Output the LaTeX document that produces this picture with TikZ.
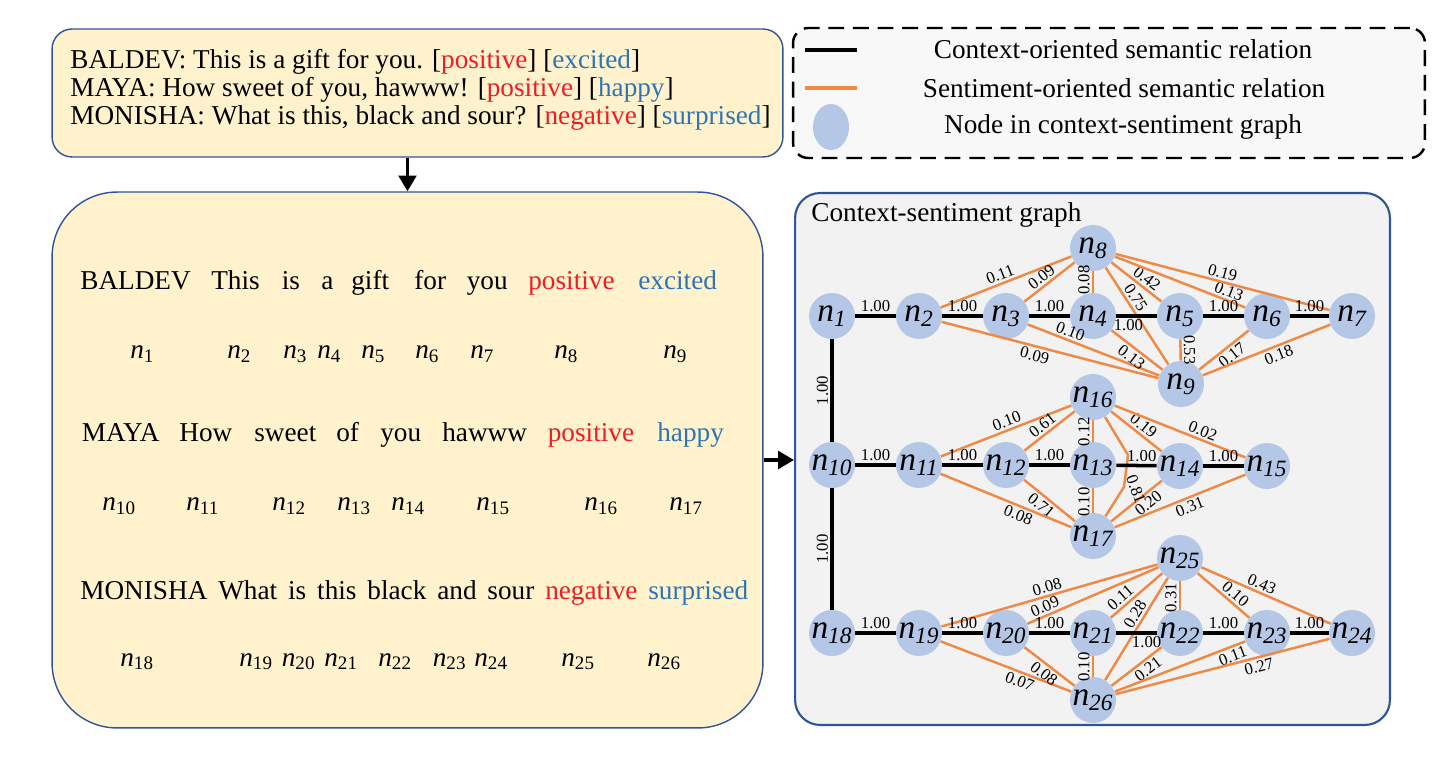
\documentclass[tikz,border=0pt]{standalone}
\usepackage{fontspec}
\setmainfont{Liberation Serif}
\usetikzlibrary{arrows.meta,positioning,shapes.geometric}

\definecolor{boxyellow}{HTML}{FFF2CC}
\definecolor{boxblue}{HTML}{2F5597}
\definecolor{graphgrey}{HTML}{F2F2F2}
\definecolor{legendgrey}{HTML}{F8F8F8}
\definecolor{nodeblue}{HTML}{B4C7E7}
\definecolor{sntorange}{HTML}{EE8A45}
\definecolor{posred}{HTML}{EE1C25}
\definecolor{emoblue}{HTML}{2E75B6}

\begin{document}
\begin{tikzpicture}[x=0.02cm, y=-0.02cm,
    box/.style={draw=boxblue, fill=boxyellow, line width=0.8pt},
    gnode/.style={circle, fill=nodeblue, minimum size=0.92cm, inner sep=0pt, font=\fontsize{19}{19}\selectfont},
    ctx/.style={draw=black, line width=2pt},
    snt/.style={draw=sntorange, line width=1.4pt},
    elab/.style={font=\fontsize{9.5}{10}\selectfont, inner sep=1.2pt},
    word/.style={anchor=base west, inner sep=0pt, font=\fontsize{15.5}{18}\selectfont},
    legtext/.style={inner sep=0pt, font=\fontsize{15.5}{18}\selectfont},
    bigarrow/.style={-{Triangle[length=9pt,width=10pt]}, line width=2pt}]

\useasboundingbox (0,0) rectangle (1443,759);

\node[box, rounded corners=0.4cm, minimum width=14.62cm, minimum height=2.56cm] (dlg) at (417.5,93) {};
\node[anchor=west, align=left, inner sep=0pt, font=\fontsize{15.5}{15.9}\selectfont] (dlgtxt) at (70,90)
    {BALDEV: This is a gift for you. [\textcolor{posred}{positive}] [\textcolor{emoblue}{excited}]\\
     MAYA: How sweet of you, hawww! [\textcolor{posred}{positive}] [\textcolor{emoblue}{happy}]\\
     MONISHA: What is this, black and sour? [\textcolor{posred}{negative}] [\textcolor{emoblue}{surprised}]};

\node[draw, line width=1.4pt, dash pattern=on 9pt off 5pt, fill=legendgrey, rounded corners=0.3cm,
    minimum width=12.64cm, minimum height=2.6cm] (legend) at (1109,93) {};
\draw[ctx, line width=2.6pt] (805,50) -- (857,50);
\draw[snt, line width=2.6pt] (805,88) -- (857,88);
\node[ellipse, fill=nodeblue, minimum width=0.72cm, minimum height=0.92cm, inner sep=0pt] (lgnode) at (831,127) {};
\node[legtext] (lg1) at (1123,49) {Context-oriented semantic relation};
\node[legtext] (lg2) at (1124,88) {Sentiment-oriented semantic relation};
\node[legtext] (lg3) at (1123,127) {Node in context-sentiment graph};

\node[box, rounded corners=1.3cm, minimum width=14.22cm, minimum height=10.72cm] (tokens) at (407.5,460) {};

\foreach \x/\w [count=\i] in {80/BALDEV, 211/This, 281.5/is, 321/a, 351/gift, 414/for, 466.5/you,
    528/{\textcolor{posred}{positive}}, 638/{\textcolor{emoblue}{excited}}}
  \node[word] (wa\i) at (\x,290) {\w};
\foreach \x [count=\i] in {130,227,283,317,361,415,470,554,663}
  \node[word] (ta\i) at (\x,359) {\textit{n}\textsubscript{\i}};

\foreach \x/\w [count=\i] in {81.5/MAYA, 179/How, 254/sweet, 336/of, 380/you, 442/hawww,
    547.5/{\textcolor{posred}{positive}}, 657/{\textcolor{emoblue}{happy}}}
  \node[word] (wb\i) at (\x,442) {\w};
\foreach \x [count=\i from 10] in {102,186,272,337,391,476,584,669}
  \node[word] (tb\i) at (\x,511) {\textit{n}\textsubscript{\i}};

\node[word] (wc) at (80,600) {\makebox[13.36cm][s]{MONISHA What is this black and sour \textcolor{posred}{negative} \textcolor{emoblue}{surprised}}};
\foreach \x [count=\i from 18] in {120,239,281.5,324,378,432.5,474,561,647}
  \node[word] (tc\i) at (\x,666) {\textit{n}\textsubscript{\i}};

\node[draw=boxblue, line width=1.2pt, fill=graphgrey, rounded corners=0.5cm,
    minimum width=11.9cm, minimum height=10.64cm] (graph) at (1092.5,459) {};
\node[word] (gtitle) at (811,222) {Context-sentiment graph};

\draw[bigarrow] (dlg.south -| tokens.north) -- (tokens.north);
\draw[bigarrow] (tokens.east) -- (tokens.east -| graph.west);

\foreach \i/\x/\y in {1/832/316, 2/919/316, 3/1006/316, 4/1093/316, 5/1180/316, 6/1267/316, 7/1352/316,
    8/1093/248, 9/1181/384,
    10/832/465, 11/919/465, 12/1006/465, 13/1093/465, 14/1180/466, 15/1267/466, 16/1093/397, 17/1093/536,
    18/832/633, 19/919/633, 20/1006/633, 21/1093/633, 22/1180/633, 23/1267/633, 24/1352/633,
    25/1180/558, 26/1093/700}
  \node[gnode] (n\i) at (\x,\y) {\textit{n\textsubscript{\i}}};

\foreach \a/\b/\w/\p in {8/2/0.11/0.52, 8/3/0.09/0.55, 4/8/0.08/0.59, 8/5/0.42/0.60, 8/9/0.75/0.36,
    8/6/0.13/0.85, 8/7/0.19/0.49, 3/9/0.10/0.30, 9/5/0.53/0.5,
    16/11/0.10/0.47, 16/12/0.61/0.53, 13/16/0.12/0.47, 16/14/0.19/0.53, 16/15/0.02/0.65, 17/13/0.10/0.44,
    25/19/0.08/0.50, 25/20/0.09/0.84, 25/21/0.11/0.70, 25/26/0.28/0.40, 22/25/0.31/0.42,
    25/23/0.10/0.62, 25/24/0.43/0.44, 26/21/0.10/0.47}
  \draw[snt] (n\a) -- node[elab, sloped, above, pos=\p] {\w} (n\b);
\foreach \a/\b/\w/\p in {2/9/0.09/0.44, 4/9/0.13/0.50, 9/6/0.17/0.55, 9/7/0.18/0.57,
    12/17/0.71/0.45, 11/17/0.08/0.62, 17/14/0.20/0.62, 17/15/0.31/0.55,
    19/26/0.07/0.63, 20/26/0.08/0.50, 26/22/0.21/0.62, 26/23/0.11/0.88, 26/24/0.27/0.66}
  \draw[snt] (n\a) -- node[elab, sloped, below, pos=\p] {\w} (n\b);
\draw[snt] (n16) -- (1128,455) -- node[elab, xshift=2pt, yshift=-3pt, rotate=-70, above, pos=1] {0.81} (1124,487) -- (n17);

\foreach \a/\b in {1/2, 2/3, 3/4, 5/6, 6/7, 10/11, 11/12, 12/13, 14/15, 18/19, 19/20, 20/21, 22/23, 23/24}
  \draw[ctx] (n\a) -- node[elab, above] {1.00} (n\b);
\draw[ctx] (n4) -- node[elab, below, pos=0.3] {1.00} (n5);
\draw[ctx] (n13) -- node[elab, above, pos=0.63] {1.00} (n14);
\draw[ctx] (n21) -- node[elab, below, pos=0.75] {1.00} (n22);
\draw[ctx] (n10) -- node[elab, sloped, above] {1.00} (n1);
\draw[ctx] (n18) -- node[elab, sloped, above] {1.00} (n10);
\end{tikzpicture}
\end{document}
